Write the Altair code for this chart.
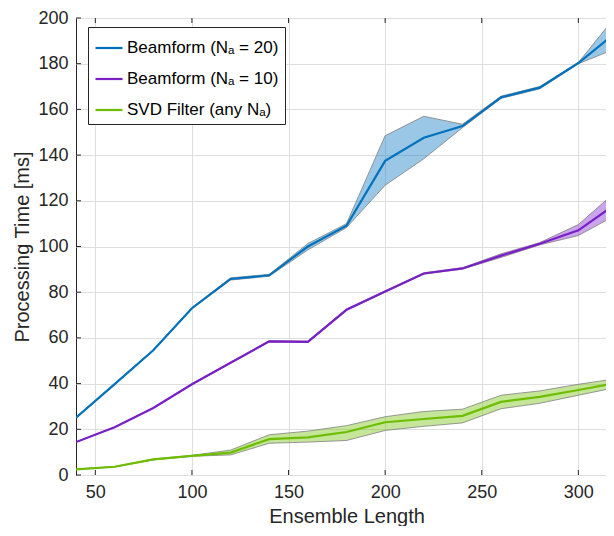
import altair as alt
import pandas as pd

# ---- data ----
ensemble = [40, 60, 80, 100, 120, 140, 160, 180, 200, 220, 240, 260, 280, 300, 320]

bf20 = [25.1, 39.8, 54.6, 73.0, 85.8, 87.4, 100.0, 109.1, 137.5, 147.6, 152.7, 165.3, 169.5, 180.3, 194.0]
bf20_lo = [24.9, 39.6, 54.4, 72.7, 85.3, 87.0, 98.5, 108.3, 126.8, 138.4, 152.0, 164.8, 169.0, 180.0, 186.8]
bf20_hi = [25.3, 40.0, 54.8, 73.3, 86.3, 87.8, 101.3, 110.0, 148.5, 157.0, 153.5, 165.8, 170.0, 180.5, 201.5]

bf10 = [14.4, 20.9, 29.3, 39.7, 49.1, 58.5, 58.3, 72.3, 80.3, 88.2, 90.4, 96.0, 101.2, 107.1, 119.0]
bf10_lo = [14.3, 20.8, 29.2, 39.5, 48.9, 58.2, 58.0, 72.0, 80.0, 87.9, 90.1, 95.2, 100.7, 104.8, 114.0]
bf10_hi = [14.5, 21.0, 29.4, 39.9, 49.3, 58.8, 58.6, 72.6, 80.6, 88.5, 90.7, 96.8, 101.7, 109.6, 124.5]

svd = [2.5, 3.6, 6.8, 8.4, 9.8, 15.7, 16.5, 18.8, 23.1, 24.5, 25.9, 32.0, 34.2, 37.2, 40.3]
svd_lo = [2.4, 3.5, 6.6, 8.2, 8.8, 13.9, 14.4, 15.1, 19.5, 21.3, 22.8, 29.0, 31.4, 34.9, 38.4]
svd_hi = [2.6, 3.7, 7.0, 8.6, 10.9, 17.6, 19.2, 21.6, 25.5, 27.8, 28.8, 34.9, 36.8, 39.7, 42.2]

series_names = ["Beamform (N\u2090 = 20)", "Beamform (N\u2090 = 10)", "SVD Filter (any N\u2090)"]
line_colors = ["#0072BD", "#7A1FC8", "#6DBE00"]

x_ticks = [50, 100, 150, 200, 250, 300]
y_ticks = [0, 20, 40, 60, 80, 100, 120, 140, 160, 180, 200]

# ---- build table ----
rows = []
for name, m, lo, hi in zip(series_names, [bf20, bf10, svd], [bf20_lo, bf10_lo, svd_lo], [bf20_hi, bf10_hi, svd_hi]):
    for xv, mv, lv, hv in zip(ensemble, m, lo, hi):
        rows.append({"x": xv, "mean": mv, "lo": lv, "hi": hv, "series": name})
df = pd.DataFrame(rows)

W, H = 541, 457
xs = alt.Scale(domain=[40, 320], nice=False, zero=False)
ys = alt.Scale(domain=[0, 200], nice=False)
ax_x = alt.Axis(values=x_ticks, title="Ensemble Length")
ax_y = alt.Axis(values=y_ticks, title="Processing Time [ms]")

base = alt.Chart(df)

band_layers = []
for name, col in zip(series_names, line_colors):
    band_layers.append(
        base.transform_filter(alt.datum.series == name)
        .mark_area(clip=True, color=col, fillOpacity=0.4, stroke="#7f7f7f", strokeWidth=1, strokeOpacity=0.8)
        .encode(
            x=alt.X("x:Q", scale=xs, axis=ax_x),
            y=alt.Y("lo:Q", scale=ys, axis=ax_y),
            y2="hi:Q",
        )
    )

lines = base.mark_line(clip=True, strokeWidth=2.2).encode(
    x=alt.X("x:Q", scale=xs, axis=ax_x),
    y=alt.Y("mean:Q", scale=ys, axis=ax_y),
    stroke=alt.Stroke(
        "series:N",
        scale=alt.Scale(domain=series_names, range=line_colors),
        legend=alt.Legend(
            title=None,
            orient="none",
            legendX=12,
            legendY=9,
            symbolType="stroke",
            symbolSize=729,
            symbolStrokeWidth=2.2,
            labelFontSize=17,
            labelColor="#000000",
            labelFont="Liberation Sans",
            labelOffset=3,
            rowPadding=8,
            padding=6,
            strokeColor="#262626",
            fillColor="#ffffff",
            cornerRadius=0,
            labelLimit=400,
        ),
    ),
)

xt_df = pd.DataFrame({"x": x_ticks})
yt_df = pd.DataFrame({"mean": y_ticks})
tick_color = "#262626"
xt_bottom = alt.Chart(xt_df).mark_rule(color=tick_color, strokeWidth=1).encode(
    x=alt.X("x:Q", scale=xs, axis=ax_x), y=alt.value(H), y2=alt.value(H - 5))
xt_top = alt.Chart(xt_df).mark_rule(color=tick_color, strokeWidth=1).encode(
    x=alt.X("x:Q", scale=xs, axis=ax_x), y=alt.value(0), y2=alt.value(5))
yt_left = alt.Chart(yt_df).mark_rule(color=tick_color, strokeWidth=1).encode(
    y=alt.Y("mean:Q", scale=ys, axis=ax_y), x=alt.value(0), x2=alt.value(5))
yt_right = alt.Chart(yt_df).mark_rule(color=tick_color, strokeWidth=1).encode(
    y=alt.Y("mean:Q", scale=ys, axis=ax_y), x=alt.value(W), x2=alt.value(W - 5))

chart = alt.layer(*band_layers, lines, xt_bottom, xt_top, yt_left, yt_right).properties(
    width=W, height=H,
    autosize=alt.AutoSizeParams(type="none"),
    padding={"left": 68, "top": 10, "right": -11, "bottom": 51},
    background="#ffffff",
).configure_view(
    stroke="#262626", strokeWidth=1
).configure_axis(
    domain=False,
    ticks=False,
    grid=True,
    gridColor="#dedede",
    gridWidth=1,
    labelFont="Liberation Sans",
    labelFontSize=18,
    labelColor="#262626",
    titleFont="Liberation Sans",
    titleFontSize=20,
    titleFontWeight="normal",
    titleColor="#262626",
    labelPadding=8,
    titlePadding=5,
)

chart.save("out.html", embed_options={"renderer": "svg", "actions": False})
